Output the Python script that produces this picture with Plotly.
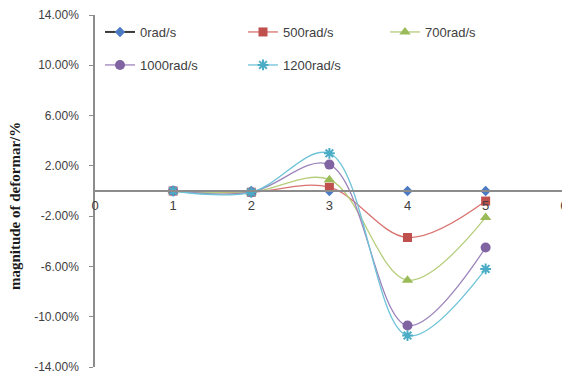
import plotly.graph_objects as go

orders = [1, 2, 3, 4, 5]
series_names = ["0rad/s", "500rad/s", "700rad/s", "1000rad/s", "1200rad/s"]
v0 = [0.0, 0.0, 0.0, 0.0, 0.0]
v500 = [0.0, -0.001, 0.003, -0.037, -0.008]
v700 = [0.0, -0.001, 0.009, -0.071, -0.021]
v1000 = [0.0, -0.001, 0.021, -0.107, -0.045]
v1200 = [0.0, -0.001, 0.030, -0.115, -0.062]
ytick_vals = [-0.14, -0.10, -0.06, -0.02, 0.02, 0.06, 0.10, 0.14]
ytick_text = ["-14.00%", "-10.00%", "-6.00%", "-2.00%", "2.00%", "6.00%", "10.00%", "14.00%"]
xtick_vals = [0, 1, 2, 3, 4, 5, 6]

styles = [
    dict(line="#3a3a3a", lw=2, marker="#4a7bc4", sym="diamond", size=8),
    dict(line="#d9726f", lw=1.3, marker="#c0504d", sym="square", size=9),
    dict(line="#b5cd7a", lw=1.3, marker="#9bbb59", sym="triangle-up", size=10),
    dict(line="#9c84bb", lw=1.3, marker="#8064a2", sym="circle", size=10),
    dict(line="#6ec3d8", lw=1.3, marker="#4bacc6", sym="asterisk-open", size=9),
]
values = [v0, v500, v700, v1000, v1200]
legend_ids = ["legend", "legend2", "legend3", "legend4", "legend5"]

fig = go.Figure()
for name, vals, st, lg in zip(series_names, values, styles, legend_ids):
    marker = dict(color=st["marker"], symbol=st["sym"], size=st["size"])
    if st["sym"].endswith("open"):
        marker["line"] = dict(color=st["marker"], width=2)
    fig.add_trace(go.Scatter(
        x=orders, y=vals, name=name, mode="lines+markers",
        line=dict(color=st["line"], width=st["lw"], shape="spline", smoothing=1.0),
        marker=marker, legend=lg,
    ))

# page body has an 8px margin; figure sized so it fills the 570x392 window
OFF = 8
FIG_W, FIG_H = 570 - OFF, 392 - OFF
PL, PR, PT, PB = 95 - OFF, 570 - OFF, 15 - OFF, 367 - OFF  # plot area in figure px
W_PLOT = PR - PL
H_PLOT = PB - PT


def px_x(px):
    return (px - OFF - PL) / W_PLOT


def px_y(py):
    return 1 - (py - OFF - PT) / H_PLOT


legend_common = dict(orientation="v", xanchor="left", yanchor="middle",
                     bgcolor="rgba(0,0,0,0)",
                     font=dict(family="Liberation Sans, Arial", size=13, color="#404040"))
col_px = [100, 243, 385]
row_px = [32, 65]
legend_pos = [(col_px[0], row_px[0]), (col_px[1], row_px[0]), (col_px[2], row_px[0]),
              (col_px[0], row_px[1]), (col_px[1], row_px[1])]
legend_layout = {}
for lg, (lx, ly) in zip(legend_ids, legend_pos):
    legend_layout[lg] = dict(x=px_x(lx), y=px_y(ly), **legend_common)

fig.update_layout(
    width=FIG_W, height=FIG_H,
    margin=dict(l=PL, r=FIG_W - PR, t=PT, b=FIG_H - PB),
    paper_bgcolor="white", plot_bgcolor="white",
    showlegend=True,
    **legend_layout,
    xaxis=dict(range=[0, 6.08], tickvals=xtick_vals, showgrid=False, zeroline=False,
               showline=True, linecolor="#8c8c8c", linewidth=1.5, automargin=False,
               anchor="free", position=0.5, ticks="outside", ticklen=3, tickcolor="rgba(0,0,0,0)",
               ticklabeloverflow="allow",
               tickfont=dict(family="Liberation Sans, Arial", size=13, color="#404040")),
    yaxis=dict(range=[-0.14, 0.14], tickvals=ytick_vals, ticktext=ytick_text,
               showgrid=False, zeroline=False, showline=True, linecolor="#8c8c8c", linewidth=1.5,
               automargin=False,
               ticks="outside", ticklen=4, tickcolor="#8c8c8c", ticklabelstandoff=8,
               tickfont=dict(family="Liberation Sans, Arial", size=12, color="#404040")),
    annotations=[
        dict(text="<b>magnitude of deformar/%</b>", x=px_x(15), y=-0.012, xref="paper", yref="y",
             xanchor="center", yanchor="middle",
             showarrow=False, textangle=-90,
             font=dict(family="Liberation Serif, Times New Roman", size=15, color="#1a1a1a")),
        dict(text="<b>order</b>", x=3, y=-0.1555, xref="x", yref="y", showarrow=False,
             xanchor="center", yanchor="middle",
             font=dict(family="Liberation Serif, Times New Roman", size=14, color="#1a1a1a")),
    ],
)

fig.write_html("out.html")
